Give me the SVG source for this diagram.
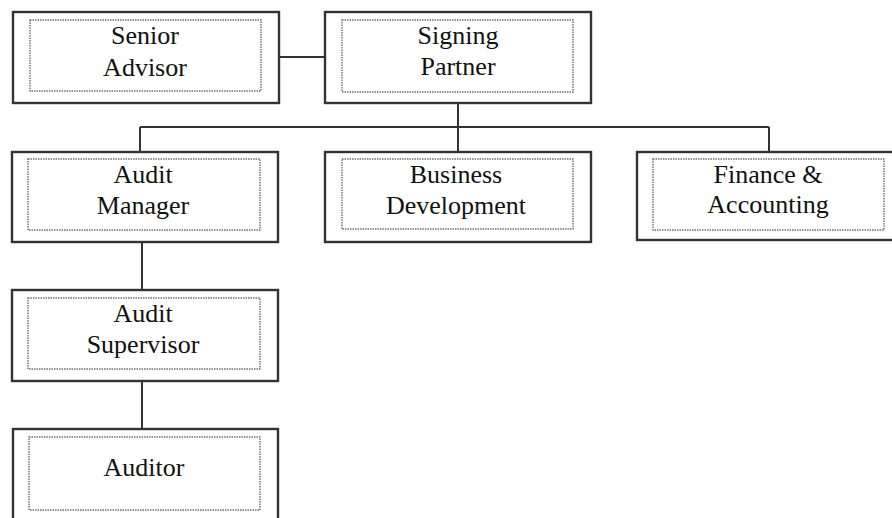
<svg xmlns="http://www.w3.org/2000/svg" width="892" height="518" viewBox="0 0 892 518">
<style>
.outer{fill:#fff;stroke:#333;stroke-width:2.4}
.inner{fill:none;stroke:#707070;stroke-width:1.4;stroke-dasharray:1.5 1}
.conn{fill:none;stroke:#333;stroke-width:2}
text{font-family:"Liberation Serif","Times New Roman",serif;font-size:26px;fill:#111;text-anchor:middle}
</style>
<rect width="892" height="518" fill="#fff"/>
<g id="connectors">
<line class="conn" x1="279" y1="57" x2="325" y2="57"/>
<line class="conn" x1="458" y1="103" x2="458" y2="127"/>
<line class="conn" x1="140" y1="127" x2="769" y2="127"/>
<line class="conn" x1="140" y1="127" x2="140" y2="152"/>
<line class="conn" x1="458" y1="127" x2="458" y2="152"/>
<line class="conn" x1="769" y1="127" x2="769" y2="152"/>
<line class="conn" x1="142" y1="242" x2="142" y2="290"/>
<line class="conn" x1="142" y1="381" x2="142" y2="430"/>
</g>
<g id="senior-advisor">
<rect class="outer" x="13" y="12" width="266" height="91"/>
<rect class="inner" x="30" y="20" width="231" height="71"/>
<text x="145" y="44">Senior</text>
<text x="145" y="76">Advisor</text>
</g>
<g id="signing-partner">
<rect class="outer" x="325" y="12" width="266" height="91"/>
<rect class="inner" x="342" y="20" width="231" height="72"/>
<text x="458" y="44">Signing</text>
<text x="458" y="75">Partner</text>
</g>
<g id="audit-manager">
<rect class="outer" x="12" y="152" width="266" height="90"/>
<rect class="inner" x="28" y="159" width="232" height="71"/>
<text x="143" y="183">Audit</text>
<text x="143" y="214">Manager</text>
</g>
<g id="business-development">
<rect class="outer" x="325" y="152" width="266" height="90"/>
<rect class="inner" x="342" y="159" width="231" height="70"/>
<text x="456" y="183">Business</text>
<text x="456" y="214">Development</text>
</g>
<g id="finance-accounting">
<rect class="outer" x="637" y="152" width="266" height="88"/>
<rect class="inner" x="653" y="159" width="231" height="71"/>
<text x="768" y="183">Finance &amp;</text>
<text x="768" y="213">Accounting</text>
</g>
<g id="audit-supervisor">
<rect class="outer" x="12" y="290" width="266" height="91"/>
<rect class="inner" x="28" y="298" width="232" height="71"/>
<text x="143" y="322">Audit</text>
<text x="143" y="353">Supervisor</text>
</g>
<g id="auditor">
<rect class="outer" x="13" y="429" width="265" height="100"/>
<rect class="inner" x="29" y="437" width="231" height="73"/>
<text x="144" y="476">Auditor</text>
</g>
</svg>
